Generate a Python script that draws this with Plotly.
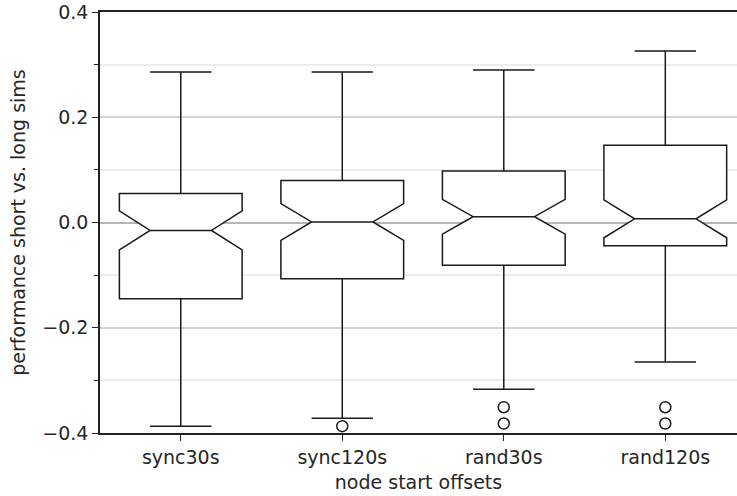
import plotly.graph_objects as go

categories = ["sync30s", "sync120s", "rand30s", "rand120s"]
positions = [1, 2, 3, 4]
q1 = [-0.145, -0.107, -0.081, -0.044]
median = [-0.015, 0.001, 0.011, 0.007]
q3 = [0.055, 0.080, 0.098, 0.147]
lower_whisker = [-0.387, -0.372, -0.317, -0.265]
upper_whisker = [0.286, 0.286, 0.290, 0.326]
notch_half = [0.037, 0.035, 0.033, 0.036]
outlier_x = [2, 3, 3, 4, 4]
outlier_y = [-0.387, -0.351, -0.382, -0.351, -0.382]

y_ticks = [-0.4, -0.2, 0.0, 0.2, 0.4]

LINE = "#1a1a1a"
fig = go.Figure()
for i, cat in enumerate(categories):
    fig.add_trace(go.Box(
        x=[positions[i]], q1=[q1[i]], median=[median[i]], q3=[q3[i]],
        lowerfence=[lower_whisker[i]], upperfence=[upper_whisker[i]],
        notchspan=[notch_half[i]], notched=True, notchwidth=0.25,
        whiskerwidth=0.5, width=0.76, boxpoints=False,
        fillcolor="white", line=dict(color=LINE, width=1.5),
        name=cat, showlegend=False, hoverinfo="skip",
    ))

fig.add_trace(go.Scatter(
    x=outlier_x, y=outlier_y, mode="markers",
    marker=dict(symbol="circle-open", size=11, color=LINE, line=dict(width=1.5)),
    showlegend=False, hoverinfo="skip",
))

font = dict(family="DejaVu Sans", size=19, color="#262626")
fig.update_layout(
    width=737, height=496,
    margin=dict(l=100, r=0, t=12, b=63),
    plot_bgcolor="white", paper_bgcolor="white",
    font=font,
    xaxis=dict(
        range=[0.5, 4.444], tickvals=positions, ticktext=categories,
        showgrid=False, zeroline=False, showline=True, linecolor="#222",
        linewidth=1.5, mirror=True, ticks="outside", ticklen=6,
        tickcolor="#222", tickwidth=1.2,
        title=dict(text="node start offsets", standoff=9, font=font),
    ),
    yaxis=dict(
        range=[-0.4, 0.4], tickvals=y_ticks, tickformat=".1f",
        showgrid=True, gridcolor="#d4d4d4", gridwidth=1.5,
        zeroline=True, zerolinecolor="#b5b5b5", zerolinewidth=2,
        showline=True, linecolor="#222", linewidth=1.5,
        ticks="outside", ticklen=6, tickcolor="#222", tickwidth=1.2,
        minor=dict(dtick=0.1, tick0=0, ticks="outside", ticklen=4,
                   tickcolor="#222", showgrid=True, gridcolor="#ececec",
                   gridwidth=1.5),
        title=dict(text="performance short vs. long sims", standoff=12, font=font),
    ),
)

fig.write_html("out.html")
